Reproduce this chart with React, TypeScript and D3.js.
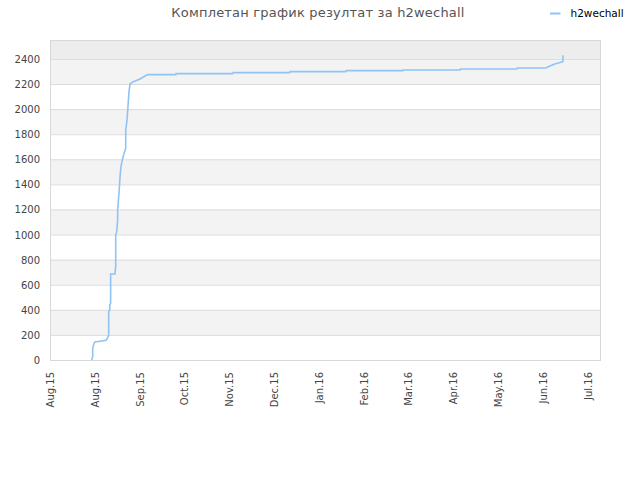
import React from "react";
import * as d3 from "d3";

const TITLE = "Комплетан график резултат за h2wechall";
const SERIES_NAME = "h2wechall";

// days since 2015-08-01
const days = [
  27.9, 28.6, 28.6, 29.5, 30.1, 33.5, 37.5, 38.4, 39.3, 39.3, 40.0, 40.0, 40.6, 40.6,
  43.5, 44.0, 44.0, 44.7, 45.3, 45.3, 46.2, 46.9, 47.5, 48.4, 49.6, 50.7, 50.7, 51.6,
  52.2, 52.9, 53.6, 55.8, 60.3, 63.6, 65.4, 84.2, 84.4, 122.3, 122.7, 160.5, 160.7,
  198.0, 198.4, 236.2, 236.6, 274.6, 275.0, 312.5, 312.9, 331.9, 334.8, 337.5, 340.4,
  342.7, 343.5, 343.5,
];
const scores = [
  0, 26, 93, 133, 143, 150, 157, 173, 197, 385, 400, 440, 452, 686,
  686, 744, 997, 1023, 1116, 1196, 1329, 1462, 1541, 1595, 1648, 1688, 1834, 1914,
  2020, 2139, 2200, 2219, 2240, 2264, 2275, 2275, 2283, 2283, 2291, 2291, 2299,
  2299, 2307, 2307, 2312, 2312, 2320, 2320, 2328, 2328, 2344, 2358, 2368,
  2376, 2378, 2429,
];
const yTicks = [0, 200, 400, 600, 800, 1000, 1200, 1400, 1600, 1800, 2000, 2200, 2400];
const xTickDays = [0, 30, 60, 90, 120, 150, 180, 210, 240, 270, 300, 330, 360];

const START = new Date(2015, 7, 1).getTime();
const toDate = (d: number) => new Date(START + d * 864e5);

export default function App() {
  const W = 640, H = 480;
  const L = 50, R = 600, T = 40, B = 360;
  const x = d3.scaleTime().domain([toDate(0), toDate(368.3)]).range([L, R]);
  const y = d3.scaleLinear().domain([0, 2551]).range([B, T]);
  const fmt = d3.timeFormat("%b.%y");
  const pts = days.map((d, i) => [x(toDate(d)), y(scores[i])] as [number, number]);
  const line = d3.line()(pts) || "";
  const font = "DejaVu Sans, sans-serif";

  const bands: [number, number, string][] = [];
  for (let v = 200; v < 2400; v += 400) bands.push([v, v + 200, "#f3f3f3"]);
  bands.push([2400, 2551, "#ededed"]);

  return (
    <svg width={W} height={H} style={{ position: "absolute", left: 0, top: 0, background: "#fff" }}>
      <text x={318} y={17} textAnchor="middle" fontFamily={font} fontSize={13} letterSpacing={0.2} fill="#555">
        {TITLE}
      </text>
      <line x1={550} x2={560.5} y1={13.5} y2={13.5} stroke="#90c3f5" strokeWidth={2} />
      <text x={570.5} y={17} fontFamily={font} fontSize={10.5} fill="#000">
        {SERIES_NAME}
      </text>
      {bands.map(([a, b, c], i) => (
        <rect key={i} x={L} width={R - L} y={y(b)} height={y(a) - y(b)} fill={c} />
      ))}
      {yTicks.map((t) => (
        <g key={t}>
          {t > 0 && <line x1={L} x2={R} y1={y(t) + 0.5} y2={y(t) + 0.5} stroke="#dcdcdc" />}
          <text x={40} y={y(t) + 4} textAnchor="end" fontFamily={font} fontSize={10} fill="#444">
            {t}
          </text>
        </g>
      ))}
      <rect x={L + 0.5} y={T + 0.5} width={R - L} height={B - T} fill="none" stroke="#d8d8d8" />
      <path d={line} fill="none" stroke="#90c3f5" strokeWidth={1.6} />
      {xTickDays.map((d) => {
        const xx = x(toDate(d));
        return (
          <text
            key={d}
            transform={`translate(${xx + 4},${372}) rotate(-90)`}
            textAnchor="end"
            fontFamily={font}
            fontSize={10}
            fill="#444"
          >
            {fmt(toDate(d))}
          </text>
        );
      })}
    </svg>
  );
}
